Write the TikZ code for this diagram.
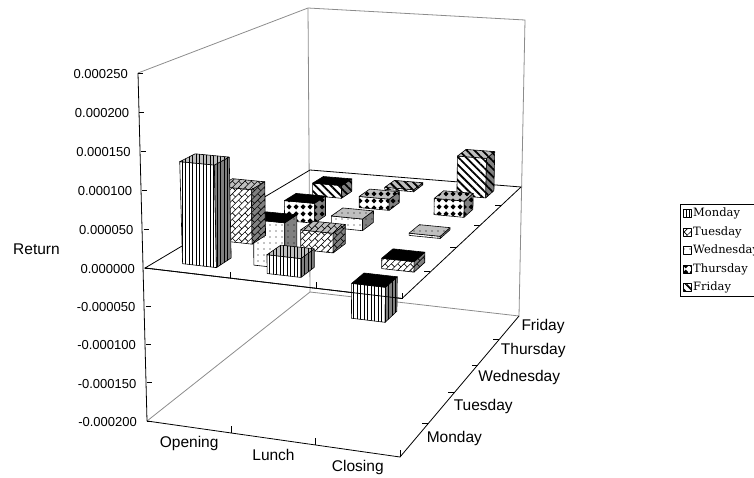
\documentclass[tikz,border=0pt]{standalone}
\usepackage{fontspec}
\setmainfont{Liberation Sans}
\newfontfamily\legendfont{DejaVu Serif}
\usetikzlibrary{calc,patterns.meta}

\tikzdeclarepattern{
  name=daybricks,
  type=uncolored,
  bottom left={(-.5pt,-.5pt)},
  top right={(9.5pt,9.5pt)},
  tile size={(9pt,9pt)},
  tile transformation={rotate=45},
  code={
    \tikzset{x=1pt,y=1pt}
    \draw[line width=.6pt] (0,0) -- (9,0) (0,4.5) -- (9,4.5)
      (0,0) -- (0,4.5) (4.5,4.5) -- (4.5,9);
  }
}
\tikzdeclarepattern{
  name=daydiamonds,
  type=uncolored,
  bottom left={(0pt,0pt)},
  top right={(6.5pt,6.5pt)},
  tile size={(6.5pt,6.5pt)},
  code={
    \tikzset{x=1pt,y=1pt}
    \fill (3.25,.6) -- (5.9,3.25) -- (3.25,5.9) -- (.6,3.25) -- cycle;
  }
}

\tikzset{
  wall/.style={draw=black!45, line width=.8pt},
  axisline/.style={draw=black, line width=.8pt},
  face/.style={draw=black, line width=.6pt, line join=round},
  monpat/.style={pattern={Lines[angle=90,distance=3.5pt,line width=.8pt]}},
  tuepat/.style={pattern=daybricks},
  wedpat/.style={pattern={Dots[distance=6pt,radius=.55pt]}},
  thupat/.style={pattern=daydiamonds},
  fripat/.style={pattern={Lines[angle=-45,distance=5.5pt,line width=1.8pt]}},
  ticklabel/.style={font=\fontsize{13}{13}\selectfont, anchor=east, inner sep=0pt},
  catlabel/.style={font=\fontsize{15.5}{15.5}\selectfont, inner sep=0pt},
  legendtext/.style={font=\legendfont\fontsize{11.5}{11.5}\selectfont, anchor=west, inner sep=0pt},
}

% point of the chart box: name, category share u, day share v, return in 1e-5
\newcommand\chartpoint[4]{%
  \pgfmathsetmacro\shareu{#2}%
  \pgfmathsetmacro\sharev{#3}%
  \pgfmathsetmacro\depthv{1.256*\sharev/(1+0.256*\sharev)}%
  \pgfmathsetmacro\retval{#4}%
  \ifdim \retval pt<0pt
    \def\planelo{b}\def\planehi{z}\pgfmathsetmacro\levelw{(\retval+20)/20}%
  \else
    \def\planelo{z}\def\planehi{t}\pgfmathsetmacro\levelw{\retval/25}%
  \fi
  \coordinate (lof) at ($(\planelo FL)!\shareu!(\planelo FR)$);
  \coordinate (lob) at ($(\planelo BL)!\shareu!(\planelo BR)$);
  \coordinate (hif) at ($(\planehi FL)!\shareu!(\planehi FR)$);
  \coordinate (hib) at ($(\planehi BL)!\shareu!(\planehi BR)$);
  \coordinate (lop) at ($(lof)!\depthv!(lob)$);
  \coordinate (hip) at ($(hif)!\depthv!(hib)$);
  \coordinate (#1) at ($(lop)!\levelw!(hip)$);
}

% one column: category, day, return, pattern
\newcommand\chartbar[4]{%
  \pgfmathsetmacro\ul{(2*#1+1)/6-0.2/3}%
  \pgfmathsetmacro\ur{(2*#1+1)/6+0.2/3}%
  \pgfmathsetmacro\vf{(2*#2+1)/10-0.04}%
  \pgfmathsetmacro\vb{(2*#2+1)/10+0.04}%
  \pgfmathsetmacro\barlow{min(0,#3)}%
  \pgfmathsetmacro\barhigh{max(0,#3)}%
  \chartpoint{fll}{\ul}{\vf}{\barlow}
  \chartpoint{frl}{\ur}{\vf}{\barlow}
  \chartpoint{brl}{\ur}{\vb}{\barlow}
  \chartpoint{flh}{\ul}{\vf}{\barhigh}
  \chartpoint{frh}{\ur}{\vf}{\barhigh}
  \chartpoint{brh}{\ur}{\vb}{\barhigh}
  \chartpoint{blh}{\ul}{\vb}{\barhigh}
  \path[face, preaction={fill=white}, #4] (fll) -- (frl) -- (frh) -- (flh) -- cycle;
  \path[face, preaction={fill=black!50}, #4] (frl) -- (brl) -- (brh) -- (frh) -- cycle;
  \ifdim #3pt<0pt
    \path[face, fill=black] (flh) -- (frh) -- (brh) -- (blh) -- cycle;
  \else
    \path[face, preaction={fill=black!25}, #4] (flh) -- (frh) -- (brh) -- (blh) -- cycle;
  \fi
}

\begin{document}
\begin{tikzpicture}[x=1pt, y=-1pt]
\clip (0,0) rectangle (754,477);

% floor, zero level and top of the box
\coordinate (bFL) at (147,421);
\coordinate (bFR) at (400,457);
\coordinate (bBR) at (519,316);
\coordinate (bBL) at (310,292);
\coordinate (zFL) at (145,268);
\coordinate (zFR) at (402,298.5);
\coordinate (zBR) at (521,187);
\coordinate (zBL) at (310,170);
\coordinate (tFL) at (138,73);
\coordinate (tFR) at (407,96);
\coordinate (tBR) at (525,20);
\coordinate (tBL) at (308,8);

\draw[wall] (tFL) -- (tBL) -- (tBR) -- (bBR);
\draw[wall] (tBL) -- (bBL);
\draw[wall] (bFL) -- (bBL) -- (bBR);
\draw[axisline] (bFL) -- (bFR) -- (bBR);
\draw[axisline] (zFR) -- (zFL) -- (zBL) -- (zBR);

\foreach \u in {0.3333,0.6667,1}{
  \chartpoint{ctick}{\u}{0}{-20}
  \draw[axisline] (ctick) -- ++(0,-7);
}
\foreach \v in {0.2,0.4,0.6,0.8}{
  \chartpoint{dtick}{1}{\v}{-20}
  \draw[axisline] (dtick) -- ++(-6,0);
}

\foreach \i/\txt in {0/Opening,1/Lunch,2/Closing}{
  \chartpoint{catpos}{(2*\i+1)/6}{0}{-20}
  \node[catlabel] (cat\i) at ([yshift=-16pt]catpos) {\txt};
}
\foreach \i/\txt in {0/Monday,1/Tuesday,2/Wednesday,3/Thursday,4/Friday}{
  \chartpoint{daypos}{1}{(2*\i+1)/10}{-20}
  \node[catlabel, anchor=west] (day\i) at ([xshift=12pt,yshift=1pt]daypos) {\txt};
}

% columns, back row first
\foreach \cat/\day/\val/\pat in {
    0/4/-2.0/fripat, 1/4/0.3/fripat, 2/4/5.8/fripat,
    0/3/-3.0/thupat, 1/3/1.6/thupat, 2/3/2.3/thupat,
    0/2/-6.6/wedpat, 1/2/1.6/wedpat, 2/2/0.3/wedpat,
    0/1/7.3/tuepat, 1/1/2.6/tuepat, 2/1/-1.4/tuepat,
    0/0/13.2/monpat, 1/0/2.4/monpat, 2/0/-4.5/monpat}{
  \chartbar{\cat}{\day}{\val}{\pat}
}

\draw[axisline] (zFL) -- (zFR) -- (zBR);
\foreach \u in {0.3333,0.6667,1}{
  \chartpoint{ctick}{\u}{0}{0}
  \draw[axisline] (ctick) -- ++(0,-6);
}
\foreach \v in {0.2,0.4,0.6,0.8}{
  \chartpoint{dtick}{1}{\v}{0}
  \draw[axisline] (dtick) -- ++(-6,0);
}

\draw[axisline] (tFL) -- (bFL);
\foreach \val/\txt in {-20/-0.000200,-15/-0.000150,-10/-0.000100,-5/-0.000050,
    0/0.000000,5/0.000050,10/0.000100,15/0.000150,20/0.000200,25/0.000250}{
  \chartpoint{ytick}{0}{0}{\val}
  \draw[axisline] (ytick) -- ++(5,0);
  \node[ticklabel] (ylab\val) at ([xshift=-10pt,yshift=-1pt]ytick) {\txt};
}
\node[catlabel] (ytitle) at (36.5,249) {Return};

% legend
\draw[line width=.6pt] (680.5,204) rectangle (780,296);
\foreach \i/\txt/\pat in {0/Monday/monpat,1/Tuesday/tuepat,2/Wednesday/wedpat,
    3/Thursday/thupat,4/Friday/fripat}{
  \path[face, preaction={fill=white}, \pat] (683,{209.5+18.5*\i}) rectangle ++(8,8);
  \node[legendtext] (leg\i) at (693,{213.5+18.5*\i}) {\txt};
}
\end{tikzpicture}
\end{document}
